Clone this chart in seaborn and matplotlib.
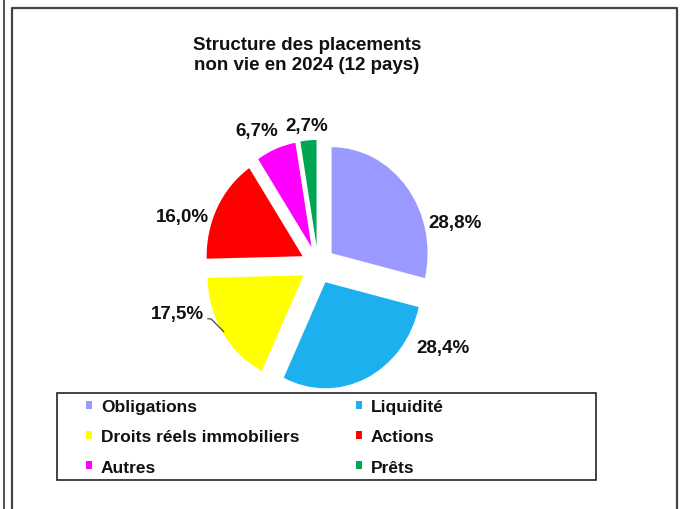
import matplotlib
matplotlib.use("Agg")
import matplotlib.pyplot as plt
from matplotlib.lines import Line2D
from matplotlib.patches import Rectangle
import seaborn as sns

# Structure des placements non vie en 2024 (12 pays)
categories = ["Obligations", "Liquidité", "Droits réels immobiliers",
              "Actions", "Autres", "Prêts"]
shares = [28.8, 28.4, 17.5, 16.0, 6.7, 2.7]
colors = ["#9999FF", "#1CB0EE", "#FFFF00", "#FF0000", "#FF00FF", "#00A651"]
title = "Structure des placements\nnon vie en 2024 (12 pays)"

# label anchor positions (data units of the pie axes)
label_pos = [(1.43, 0.40), (1.30, -0.78), (-1.46, -0.46),
             (-1.41, 0.46), (-0.64, 1.27), (-0.12, 1.32)]

sns.set_theme(style="white")
plt.rcParams["font.family"] = ["Liberation Sans", "DejaVu Sans"]

fig = plt.figure(figsize=(6.8, 5.1), dpi=100)
fig.patch.set_facecolor("white")

W, H = 680.0, 510.0
cx, cy, rx, ry = 318.0, 266.0, 96.0, 106.0
xl, yl = 2.0, 1.6
ax = fig.add_axes([(cx - xl * rx) / W, (H - cy - yl * ry) / H,
                   2 * xl * rx / W, 2 * yl * ry / H])

wedges, _ = ax.pie(shares, colors=colors, startangle=90, counterclock=False,
                   explode=[0.18] * len(shares), radius=1.0,
                   wedgeprops=dict(linewidth=0))
ax.set_aspect("auto")
ax.set_xlim(-xl, xl)
ax.set_ylim(-yl, yl)
ax.axis("off")

for i, (v, (tx, ty)) in enumerate(zip(shares, label_pos)):
    txt = f"{v:.1f}%".replace(".", ",")
    if categories[i] == "Droits réels immobiliers":
        ax.annotate(txt, xy=(-0.98, -0.63), xytext=(tx, ty),
                    ha="center", va="center", fontsize=13.5,
                    fontweight="bold", color="#111111",
                    arrowprops=dict(arrowstyle="-", color="#333333", lw=0.8,
                                    shrinkA=0, shrinkB=0, relpos=(1.04, 0.2),
                                    connectionstyle="angle,angleA=0,angleB=-45,rad=0"))
    else:
        ax.text(tx, ty, txt, ha="center", va="center", fontsize=13.5,
                fontweight="bold", color="#111111")

fig.text(307 / W, 1 - 55.5 / H, title, ha="center", va="center",
         fontsize=13.5, fontweight="bold", color="#111111", linespacing=1.2)

# legend: two columns, filled row by row
order = [0, 2, 4, 1, 3, 5]
handles = [Rectangle((0, 0), 1, 1, facecolor=colors[i], edgecolor="none")
           for i in order]
labels = [categories[i] for i in order]
leg = fig.legend(handles, labels, ncol=2, loc="upper left",
                 bbox_to_anchor=(86 / W, 1 - 400 / H), frameon=False,
                 prop=dict(weight="bold", size=12.5),
                 handlelength=0.36, handleheight=0.36, handletextpad=0.5,
                 columnspacing=3.25, labelspacing=0.88, borderpad=0,
                 borderaxespad=0)
for t in leg.get_texts():
    t.set_color("#111111")

fig.add_artist(Rectangle((57 / W, 1 - 481 / H), 539 / W, 87 / H,
                         transform=fig.transFigure, fill=False,
                         edgecolor="#222222", linewidth=1.2))

# outer frame lines
fig.add_artist(Line2D([3.5 / W, 3.5 / W], [0, 1], transform=fig.transFigure,
                      color="#333333", linewidth=1.2))
fig.add_artist(Line2D([12 / W, 12 / W, 677 / W, 677 / W],
                      [0, 1 - 8.5 / H, 1 - 8.5 / H, 0],
                      transform=fig.transFigure, color="#444444",
                      linewidth=1.6))

fig.savefig("out.png", dpi=100, facecolor="white")
